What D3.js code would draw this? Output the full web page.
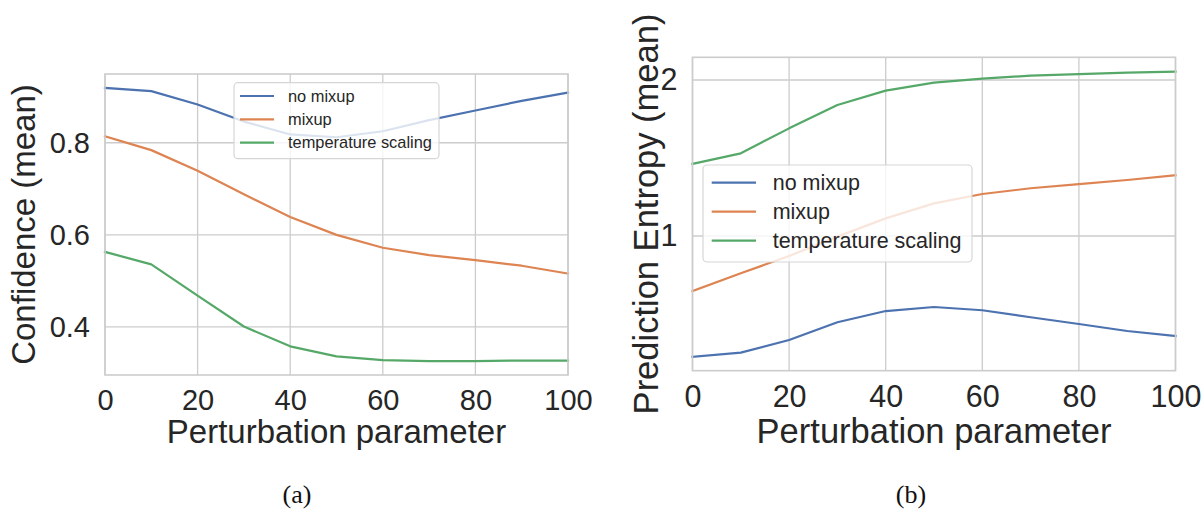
<!DOCTYPE html>
<html>
<head>
<meta charset="utf-8">
<script src="https://cdn.jsdelivr.net/npm/d3@7"></script>
<style>
  html, body { margin: 0; padding: 0; background: #ffffff; }
  svg { display: block; }
</style>
</head>
<body>
<svg id="fig" width="1203" height="510"></svg>
<script>
// Perturbation sweep (x axis)
const perturbation = [0, 10, 20, 30, 40, 50, 60, 70, 80, 90, 100];

// Panel (a): mean confidence
const confNoMixup = [0.919, 0.912, 0.883, 0.846, 0.818, 0.812, 0.825, 0.849, 0.870, 0.891, 0.909];
const confMixup   = [0.814, 0.784, 0.739, 0.688, 0.639, 0.600, 0.572, 0.556, 0.545, 0.533, 0.516];
const confTemp    = [0.563, 0.536, 0.468, 0.401, 0.358, 0.336, 0.328, 0.326, 0.326, 0.327, 0.327];

// Panel (b): mean prediction entropy
const entNoMixup = [0.226, 0.252, 0.333, 0.447, 0.519, 0.545, 0.524, 0.479, 0.436, 0.391, 0.359];
const entMixup   = [0.647, 0.761, 0.872, 0.996, 1.113, 1.209, 1.269, 1.306, 1.333, 1.359, 1.389];
const entTemp    = [1.462, 1.530, 1.690, 1.840, 1.932, 1.983, 2.009, 2.028, 2.038, 2.047, 2.053];

const seriesNames = ["no mixup", "mixup", "temperature scaling"];
const seriesColors = ["#4c72b0", "#dd8452", "#55a868"];

const xTicks = [0, 20, 40, 60, 80, 100];
const confTicks = [0.4, 0.6, 0.8];
const entTicks = [1, 2];

const TEXT = "#262626";
const GRID = "#cccccc";
const FONT = "'Liberation Sans', Arial, Helvetica, sans-serif";

const svg = d3.select("#fig");

function panel(cfg) {
  const x = d3.scaleLinear().domain([0, 100]).range([cfg.left, cfg.right]);
  const y = d3.scaleLinear().domain(cfg.yDomain).range([cfg.bottom, cfg.top]);
  const g = svg.append("g");

  // grid
  g.append("g").selectAll("line").data(xTicks).join("line")
    .attr("x1", d => x(d)).attr("x2", d => x(d))
    .attr("y1", cfg.top).attr("y2", cfg.bottom)
    .attr("stroke", GRID).attr("stroke-width", 1.3);
  g.append("g").selectAll("line").data(cfg.yTicks).join("line")
    .attr("x1", cfg.left).attr("x2", cfg.right)
    .attr("y1", d => y(d)).attr("y2", d => y(d))
    .attr("stroke", GRID).attr("stroke-width", 1.3);

  // axes (labels only, no tick marks)
  const xAxis = d3.axisBottom(x).tickValues(xTicks).tickSize(0).tickPadding(cfg.xPad)
    .tickFormat(d3.format("d"));
  const gx = g.append("g").attr("transform", `translate(0,${cfg.bottom})`).call(xAxis);
  gx.select(".domain").remove();
  gx.selectAll("text").attr("fill", TEXT).style("font-family", FONT)
    .style("font-size", cfg.tickSize + "px");

  const yAxis = d3.axisLeft(y).tickValues(cfg.yTicks).tickSize(0).tickPadding(15)
    .tickFormat(cfg.yFormat);
  const gy = g.append("g").attr("transform", `translate(${cfg.left},0)`).call(yAxis);
  gy.select(".domain").remove();
  gy.selectAll("text").attr("fill", TEXT).style("font-family", FONT)
    .style("font-size", cfg.tickSize + "px");

  // series
  const line = d3.line().x((d, i) => x(perturbation[i])).y(d => y(d));
  cfg.series.forEach((vals, k) => {
    g.append("path").datum(vals)
      .attr("d", line)
      .attr("fill", "none")
      .attr("stroke", seriesColors[k])
      .attr("stroke-width", 2.2)
      .attr("stroke-linejoin", "round")
      .attr("stroke-linecap", "square");
  });

  // frame
  g.append("rect")
    .attr("x", cfg.left).attr("y", cfg.top)
    .attr("width", cfg.right - cfg.left).attr("height", cfg.bottom - cfg.top)
    .attr("fill", "none").attr("stroke", GRID).attr("stroke-width", 1.6);

  // axis titles
  g.append("text")
    .attr("x", (cfg.left + cfg.right) / 2).attr("y", cfg.xLabelY)
    .attr("text-anchor", "middle").attr("fill", TEXT)
    .style("font-family", FONT).style("font-size", cfg.labelSize + "px")
    .text("Perturbation parameter");
  g.append("text")
    .attr("transform", `translate(${cfg.yLabelX},${(cfg.top + cfg.bottom) / 2}) rotate(-90)`)
    .attr("text-anchor", "middle").attr("fill", TEXT)
    .style("font-family", FONT).style("font-size", cfg.labelSize + "px")
    .text(cfg.yLabel);

  // legend
  const L = cfg.legend;
  const lg = g.append("g");
  lg.append("rect")
    .attr("x", L.x).attr("y", L.y).attr("width", L.w).attr("height", L.h)
    .attr("rx", 4).attr("ry", 4)
    .attr("fill", "#ffffff").attr("fill-opacity", 0.8)
    .attr("stroke", "#d6d6d6").attr("stroke-width", 1.2);
  seriesNames.forEach((name, k) => {
    const ry = L.row0 + k * L.step;
    lg.append("line")
      .attr("x1", L.lineX0).attr("x2", L.lineX1)
      .attr("y1", ry).attr("y2", ry)
      .attr("stroke", seriesColors[k]).attr("stroke-width", 2.2);
    lg.append("text")
      .attr("x", L.textX).attr("y", ry + L.font * 0.35)
      .attr("fill", TEXT)
      .style("font-family", FONT).style("font-size", L.font + "px")
      .text(name);
  });

  // caption
  svg.append("text")
    .attr("x", cfg.captionX).attr("y", 503)
    .attr("text-anchor", "middle").attr("fill", "#111111")
    .style("font-family", "'Liberation Serif', 'DejaVu Serif', serif")
    .style("font-size", "26px")
    .text(cfg.caption);
}

panel({
  left: 105, right: 568, top: 74, bottom: 375,
  yDomain: [0.2957, 0.9493],
  yTicks: confTicks, yFormat: d3.format(".1f"),
  series: [confNoMixup, confMixup, confTemp],
  tickSize: 29, labelSize: 33, xPad: 14,
  xLabelY: 443, yLabelX: 35,
  yLabel: "Confidence (mean)",
  legend: { x: 234, y: 82.7, w: 205, h: 76, row0: 96, step: 23.3,
            lineX0: 240, lineX1: 274, textX: 288, font: 16.4 },
  captionX: 297, caption: "(a)"
});

panel({
  left: 692.5, right: 1175.5, top: 57.3, bottom: 370.7,
  yDomain: [0.1365, 2.1455],
  yTicks: entTicks, yFormat: d3.format("d"),
  series: [entNoMixup, entMixup, entTemp],
  tickSize: 30.5, labelSize: 34.5, xPad: 15,
  xLabelY: 443, yLabelX: 658,
  yLabel: "Prediction Entropy (mean)",
  legend: { x: 703, y: 165, w: 269, h: 97, row0: 182.7, step: 29,
            lineX0: 711.7, lineX1: 756, textX: 772.7, font: 21.5 },
  captionX: 911, caption: "(b)"
});
</script>
</body>
</html>
